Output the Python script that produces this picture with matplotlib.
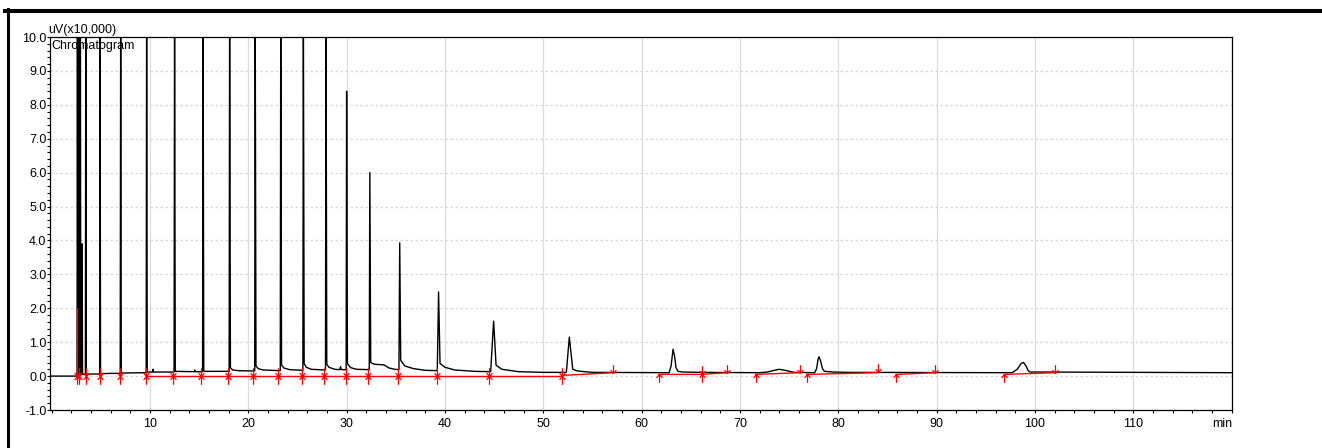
import matplotlib
matplotlib.use("Agg")
import matplotlib.pyplot as plt
from matplotlib.lines import Line2D
from matplotlib.path import Path
from matplotlib.ticker import MultipleLocator, FixedLocator

plt.rcParams["font.family"] = ["Liberation Sans", "DejaVu Sans"]

# detector trace (min, uV x10,000); peaks above 10 are off-scale
trace_min = [
    0.0, 2.5,
    2.58, 2.62, 2.66, 2.76, 2.79, 2.83, 2.89, 2.92, 2.96,
    3.07, 3.10, 3.14, 3.43, 3.47, 3.52, 4.5,
    4.88, 4.92, 4.97, 6.0, 6.97, 7.02, 7.08, 9.0,
    9.61, 9.66, 9.72, 10.25, 10.3, 10.35, 12.3,
    12.45, 12.5, 12.57, 14.5, 14.55, 14.6, 15.3,
    15.35, 15.4, 15.47, 15.7, 18.0,
    18.05, 18.1, 18.18, 18.4, 19.0, 20.5,
    20.65, 20.7, 20.78, 21.0, 21.5, 23.1,
    23.25, 23.3, 23.38, 23.6, 24.2, 25.5,
    25.55, 25.6, 25.68, 25.9, 26.4, 27.7,
    27.85, 27.9, 27.98, 28.2, 28.8, 29.3, 29.38, 29.45, 29.9,
    29.95, 30.0, 30.08, 30.4, 31.0, 32.25,
    32.3, 32.36, 32.45, 32.8, 33.3, 33.8, 34.3, 34.9, 35.25,
    35.32, 35.4, 35.5, 35.9, 36.8, 38.0, 39.15,
    39.22, 39.35, 39.5, 40.0, 41.0, 43.0, 44.6,
    44.65, 44.95, 45.2, 45.8, 47.5, 50.0, 52.2,
    52.35, 52.65, 53.0, 53.5, 55.0, 62.8,
    63.0, 63.2, 63.35, 63.5, 63.7, 64.2, 66.0, 72.0,
    72.8, 73.5, 74.0, 74.6, 75.5, 77.6,
    77.8, 77.95, 78.05, 78.2, 78.4, 78.6, 79.5, 81.0, 97.7,
    98.2, 98.6, 98.85, 99.1, 99.3, 99.5, 100.5, 120.0,
]
trace_uv = [
    0.0, 0.0,
    0.02, 10.8, 0.05, 0.05, 10.8, 0.05, 0.05, 10.8, 0.05,
    0.05, 3.9, 0.05, 0.05, 10.8, 0.06, 0.06,
    0.06, 10.8, 0.07, 0.08, 0.08, 10.8, 0.09, 0.10,
    0.10, 10.8, 0.12, 0.12, 0.20, 0.12, 0.12,
    0.12, 10.8, 0.14, 0.13, 0.18, 0.13, 0.13,
    0.13, 10.8, 0.15, 0.14, 0.14,
    0.14, 10.8, 0.25, 0.18, 0.16, 0.15,
    0.15, 10.8, 0.30, 0.22, 0.18, 0.16,
    0.16, 10.8, 0.33, 0.24, 0.19, 0.17,
    0.17, 10.8, 0.37, 0.26, 0.20, 0.18,
    0.18, 10.8, 0.35, 0.26, 0.20, 0.19, 0.28, 0.19, 0.19,
    0.19, 8.4, 0.37, 0.25, 0.20, 0.19,
    0.19, 6.0, 0.40, 0.35, 0.34, 0.33, 0.24, 0.20, 0.19,
    0.19, 3.93, 0.47, 0.30, 0.22, 0.17, 0.16,
    0.16, 2.48, 0.37, 0.26, 0.18, 0.14, 0.13,
    0.13, 1.62, 0.32, 0.20, 0.13, 0.11, 0.11,
    0.12, 1.15, 0.20, 0.15, 0.11, 0.10,
    0.30, 0.79, 0.60, 0.25, 0.14, 0.12, 0.11, 0.10,
    0.12, 0.17, 0.20, 0.17, 0.11, 0.10,
    0.22, 0.50, 0.57, 0.45, 0.22, 0.14, 0.12, 0.11, 0.10,
    0.20, 0.37, 0.40, 0.30, 0.17, 0.12, 0.12, 0.10,
]

# integration baselines (red)
base_min = [[9.59, 51.9], [51.9, 57.1], [61.75, 66.1, 68.7], [71.6, 76.1],
            [76.8, 84.0], [85.9, 89.8], [96.9, 102.0]]
base_uv = [[0.0, 0.0], [0.02, 0.10], [0.05, 0.05, 0.10], [0.05, 0.10],
           [0.05, 0.10], [0.05, 0.10], [0.05, 0.10]]
drop_min = [2.58, 2.58]
drop_uv = [0.0, 2.0]

# peak start (up arrow) / end (down arrow) marks
both_min = [2.61, 2.81, 3.46, 4.92, 6.95, 9.59, 12.37, 15.18, 17.9, 20.5,
            23.07, 25.5, 27.7, 29.9, 32.2, 35.2, 39.2, 44.45, 51.9, 66.1]
both_uv = [0.0] * 19 + [0.05]
start_min = [61.75, 71.6, 76.8, 85.9, 96.9]
start_uv = [0.05, 0.05, 0.05, 0.05, 0.05]
end_min = [57.1, 68.7, 76.1, 84.0, 89.8, 102.0]
end_uv = [0.10, 0.10, 0.10, 0.12, 0.10, 0.10]

M, L = Path.MOVETO, Path.LINETO
up_arrow = Path([(0, -1), (0, 0), (-0.35, -0.4), (0, 0), (0.35, -0.4)], [M, L, M, L, L])
down_arrow = Path([(0, 1), (0, 0), (-0.35, 0.4), (0, 0), (0.35, 0.4)], [M, L, M, L, L])

fig = plt.figure(figsize=(13.22, 4.48), dpi=100)
ax = fig.add_axes([50 / 1322, 38 / 448, 1182 / 1322, 373 / 448])

ax.plot(trace_min, trace_uv, color="black", lw=1.0, zorder=3)
for t, y in zip(base_min, base_uv):
    ax.plot(t, y, color="red", lw=1.0, zorder=4)
ax.plot(drop_min, drop_uv, color="red", lw=1.0, zorder=4)

mk = dict(ls="none", color="red", mfc="none", ms=12, mew=0.9, zorder=5)
ax.plot(both_min, both_uv, marker=up_arrow, **mk)
ax.plot(both_min, both_uv, marker=down_arrow, **mk)
ax.plot(start_min, start_uv, marker=up_arrow, **mk)
ax.plot(end_min, end_uv, marker=down_arrow, **mk)

ax.set_xlim(-0.17, 120.05)
ax.set_ylim(-1.0, 10.0)
ax.xaxis.set_major_locator(FixedLocator(range(10, 121, 10)))
ax.set_xticklabels([str(v) for v in range(10, 120, 10)] + [""])
ax.xaxis.set_minor_locator(MultipleLocator(2))
ax.yaxis.set_major_locator(MultipleLocator(1.0))
ax.yaxis.set_minor_locator(MultipleLocator(0.2))
ax.yaxis.set_major_formatter(plt.FormatStrFormatter("%.1f"))
ax.tick_params(axis="both", which="both", length=2.5, width=0.8, labelsize=9,
               colors="black")
ax.tick_params(axis="y", pad=0)
ax.tick_params(axis="x", pad=3)

ax.grid(True, axis="x", which="major", color="#dcdcdc", lw=0.9, ls="-", zorder=0)
ax.grid(True, axis="y", which="major", color="#d6d6d6", lw=0.9, ls=(0, (2, 2)), zorder=0)
ax.set_axisbelow(True)
for s in ax.spines.values():
    s.set_linewidth(0.9)
    s.set_color("black")

ax.text(0.0015, 0.992, "Chromatogram", transform=ax.transAxes, ha="left", va="top",
        fontsize=9, zorder=1)
ax.text(-0.0015, 1.003, "uV(x10,000)", transform=ax.transAxes, ha="left", va="bottom",
        fontsize=9, clip_on=False)
ax.text(1.0, -0.022, "min", transform=ax.transAxes, ha="right", va="top", fontsize=9)

# heavy frame on the top and left edge of the image
fig.add_artist(Line2D([5 / 1322, 1.0], [437 / 448, 437 / 448], color="black", lw=2.9,
                      transform=fig.transFigure))
fig.add_artist(Line2D([7.5 / 1322, 7.5 / 1322], [0.0, 439 / 448], color="black", lw=2.2,
                      transform=fig.transFigure))

fig.savefig("out.png", dpi=100, facecolor="white")
